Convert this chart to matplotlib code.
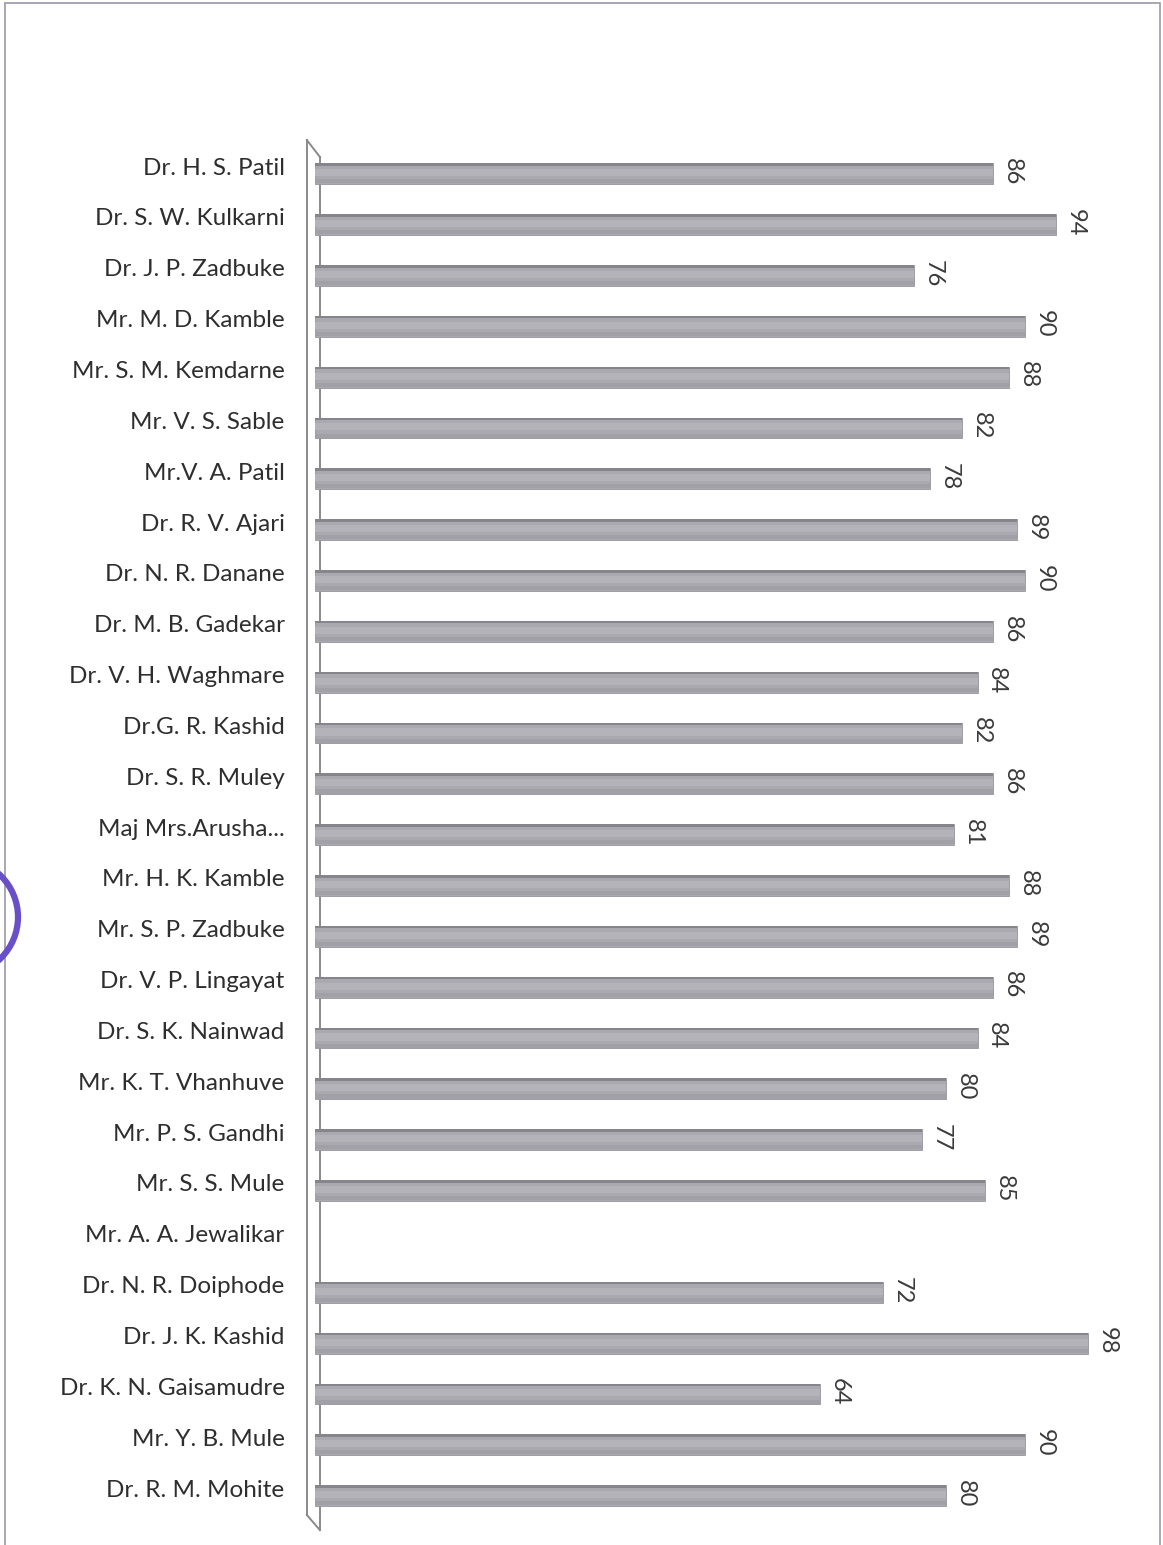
import matplotlib.pyplot as plt
from matplotlib.patches import Rectangle, Arc
import numpy as np

# Names and scores, top to bottom as in the chart
names = [
    "Dr. H. S. Patil", "Dr. S. W. Kulkarni", "Dr. J. P. Zadbuke", "Mr. M. D. Kamble",
    "Mr. S. M. Kemdarne", "Mr. V. S. Sable", "Mr.V. A. Patil", "Dr. R. V. Ajari",
    "Dr. N. R. Danane", "Dr. M. B. Gadekar", "Dr. V. H. Waghmare", "Dr.G. R. Kashid",
    "Dr. S. R. Muley", "Maj Mrs.Arusha...", "Mr. H. K. Kamble", "Mr. S. P. Zadbuke",
    "Dr. V. P. Lingayat", "Dr. S. K. Nainwad", "Mr. K. T. Vhanhuve", "Mr. P. S. Gandhi",
    "Mr. S. S. Mule", "Mr. A. A. Jewalikar", "Dr. N. R. Doiphode", "Dr. J. K. Kashid",
    "Dr. K. N. Gaisamudre", "Mr. Y. B. Mule", "Dr. R. M. Mohite",
]
scores = [86, 94, 76, 90, 88, 82, 78, 89, 90, 86, 84, 82, 86, 81, 88, 89, 86, 84,
          80, 77, 85, np.nan, 72, 98, 64, 90, 80]

plt.rcParams['font.family'] = ['Lato', 'DejaVu Sans']

fig = plt.figure(figsize=(11.63, 15.45), dpi=100)
ax = fig.add_axes([0.271, 0.0155, 0.678, 0.8885])

y = np.arange(len(names))
vals = np.array(scores, dtype=float)
has = ~np.isnan(vals)

# base bar + soft bands for the cylinder look
ax.barh(y[has], vals[has], height=0.41, color='#a9a9af', edgecolor='#96969c', linewidth=0.6, zorder=3)
ax.barh(y[has] - 0.18, vals[has], height=0.05, color='#85858b', linewidth=0, zorder=4)
ax.barh(y[has] - 0.02, vals[has], height=0.14, color='#b3b3b9', linewidth=0, zorder=4)
ax.barh(y[has] + 0.15, vals[has], height=0.08, color='#a0a0a6', linewidth=0, zorder=4)

for yi, v in zip(y, vals):
    if np.isnan(v):
        continue
    ax.text(v + 1.1, yi - 0.04, f"{v:.0f}", rotation=-90, ha='left', va='center',
            fontsize=17, color='#3a3a3a', zorder=5)

ax.set_xlim(0, 100)
ax.set_ylim(len(names) - 0.5, -0.5)
ax.set_yticks(y - 0.15)
ax.set_yticklabels(names, fontsize=17.5, color='#2e2e2e')
ax.tick_params(axis='y', length=0, pad=22)
ax.set_xticks([])
for s in ax.spines.values():
    s.set_visible(False)

# side wall of the 3D plot area
wc = '#8a8a8a'
xl, xr = -0.0105, 0.006
kw = dict(transform=ax.transAxes, color=wc, lw=1.4, clip_on=False)
ax.plot([xl, xr], [1.006, 0.9937], **kw)
ax.plot([xl, xl], [1.006, 0.0044], **kw)
ax.plot([xl, xr], [0.0044, -0.0066], **kw)
ax.plot([xr, xr], [0.9937, -0.0066], **kw)

# page frame and the edge of a stamp
fig.add_artist(Rectangle((0.004, -0.01), 0.993, 1.008, transform=fig.transFigure, fill=False,
                         edgecolor='#9a9aa8', linewidth=1.2))
fig.add_artist(Arc((-40 / 1163, 1 - 917 / 1545), 116 / 1163, 116 / 1545, theta1=-90, theta2=90,
                   transform=fig.transFigure, color='#6a50c8', lw=4.5))

fig.savefig('out.png', dpi=100, facecolor='white')
